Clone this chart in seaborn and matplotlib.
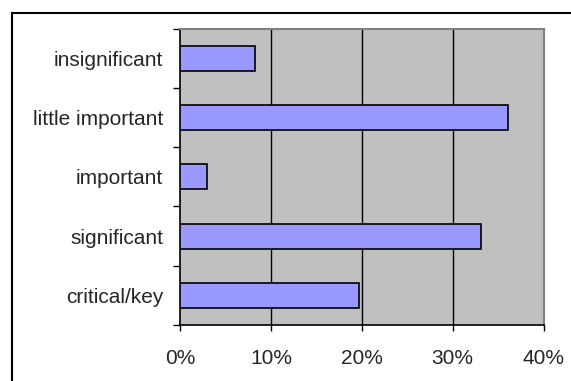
import matplotlib
matplotlib.use("Agg")
import matplotlib.pyplot as plt
from matplotlib.lines import Line2D
from matplotlib.ticker import FixedLocator, FuncFormatter
import pandas as pd
import seaborn as sns

# Share of responses per importance level (top to bottom)
categories = ["insignificant", "little important", "important", "significant", "critical/key"]
shares = [8.3, 36.1, 3.0, 33.1, 19.7]
x_ticks = [0, 10, 20, 30, 40]

sns.set_style("white")
plt.rcParams["font.family"] = ["Liberation Sans", "DejaVu Sans"]

df = pd.DataFrame({"level": categories, "share": shares})

fig = plt.figure(figsize=(5.71, 3.81), dpi=100)
fig.patch.set_facecolor("white")

# Outer chart frame: top and left edges (the rest runs off the figure)
fx0 = 12 / 571
fy1 = 1 - 12.5 / 381
fig.add_artist(Line2D([fx0, 1.0], [fy1, fy1], transform=fig.transFigure,
                      color="black", linewidth=1.5, solid_capstyle="projecting"))
fig.add_artist(Line2D([fx0, fx0], [0.0, fy1], transform=fig.transFigure,
                      color="black", linewidth=1.5, solid_capstyle="projecting"))

ax = fig.add_axes([180 / 571, 1 - 325 / 381, (543.5 - 180) / 571, (325 - 28.7) / 381])
ax.set_facecolor("#C0C0C0")

sns.barplot(data=df, x="share", y="level", order=categories, orient="h",
            color="#9999FF", edgecolor="black", linewidth=1.2, width=0.42,
            saturation=1, ax=ax, zorder=3)

ax.set_xlim(0, 40)
ax.set_ylim(4.5, -0.5)
ax.set_xlabel("")
ax.set_ylabel("")

# Vertical gridlines
ax.xaxis.set_major_locator(FixedLocator(x_ticks))
ax.xaxis.set_major_formatter(FuncFormatter(lambda v, p: f"{v:.0f}%"))
for v in x_ticks[1:-1]:
    ax.axvline(v, color="black", linewidth=1.0, zorder=1)

# Category ticks sit between bars, labels at bar centres
ax.yaxis.set_major_locator(FixedLocator([i - 0.5 for i in range(len(categories) + 1)]))
ax.yaxis.set_major_formatter(FuncFormatter(lambda v, p: ""))
ax.yaxis.set_minor_locator(FixedLocator(range(len(categories))))
ax.set_yticklabels(categories, minor=True)

ax.tick_params(axis="y", which="major", direction="out", length=5, width=1, color="black", left=True)
ax.tick_params(axis="y", which="minor", length=0, pad=12, labelsize=15)
ax.tick_params(axis="x", which="major", direction="out", length=4.5, width=1, color="black",
               bottom=True, pad=12.5, labelsize=15)

for side in ("left", "bottom"):
    ax.spines[side].set_color("black")
    ax.spines[side].set_linewidth(1.2)
for side in ("top", "right"):
    ax.spines[side].set_color("#808080")
    ax.spines[side].set_linewidth(1.5)
    ax.spines[side].set_visible(True)

fig.savefig("out.png", dpi=100)
